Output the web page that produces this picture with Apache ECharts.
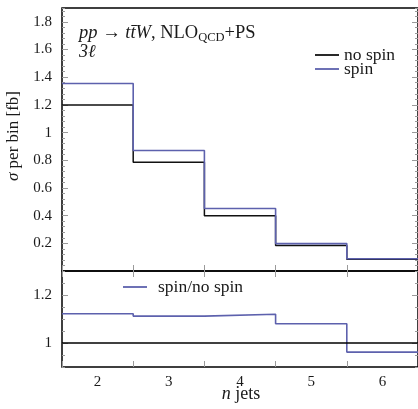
<!DOCTYPE html>
<html>
<head>
<meta charset="utf-8">
<script src="https://cdn.jsdelivr.net/npm/echarts@6/dist/echarts.min.js"></script>
<style>
  html, body { margin: 0; padding: 0; background: #fff; }
  #chart { width: 418px; height: 409px; }
</style>
</head>
<body>
<div id="chart"></div>
<script>
// Jet-multiplicity bins (n jets)
const categories = [2, 3, 4, 5, 6];
// Cross section per bin [fb]
const noSpin = [1.20, 0.785, 0.40, 0.185, 0.084];
const spin   = [1.355, 0.87, 0.452, 0.198, 0.089];
// Ratio spin / no spin
const ratio  = [1.122, 1.112, 1.12, 1.08, 0.962];
const ratioRef = 1;
// Tick labels
const upperTicks = [0.2, 0.4, 0.6, 0.8, 1, 1.2, 1.4, 1.6, 1.8];
const ratioTicks = [1, 1.2];

const FONT = 'Liberation Serif';
const TEXT_SIZE = 17.5;
const SPIN_COLOR = '#5d61ad';
const TICK_COLOR = '#9a9a9a';
const INK = '#1a1a1a';

// Histogram outline: each bin becomes a flat segment from its lower to its upper edge
function histo(values) {
  const pts = [];
  categories.forEach((c, i) => {
    pts.push([c - 0.5, values[i]]);
    pts.push([c + 0.5, values[i]]);
  });
  return pts;
}

function catAxis(grid, position, showLabels) {
  return {
    type: 'category', gridIndex: grid, position: position, data: categories,
    boundaryGap: true,
    axisLine: { show: false },
    axisTick: { show: true, inside: true, length: 6, interval: 0,
                lineStyle: { color: TICK_COLOR, width: 1 } },
    axisLabel: { show: showLabels, margin: 8, fontFamily: FONT, fontSize: 15, color: INK },
    splitLine: { show: false }
  };
}
function valueX(grid) {
  return { type: 'value', gridIndex: grid, min: 1.5, max: 6.5, show: false };
}
function majorY(grid, position, min, max, ticks, showLabels) {
  return {
    type: 'value', gridIndex: grid, position: position, min: min, max: max,
    axisLine: { show: false },
    axisTick: { show: true, inside: true, length: 6, customValues: ticks,
                lineStyle: { color: TICK_COLOR, width: 1 } },
    axisLabel: { show: showLabels, customValues: ticks, margin: 10,
                 fontFamily: FONT, fontSize: 15, color: INK },
    splitLine: { show: false }
  };
}
function minorY(grid, position, min, max, step) {
  return {
    type: 'value', gridIndex: grid, position: position, min: min, max: max, interval: step,
    axisLine: { show: false },
    axisTick: { show: true, inside: true, length: 3,
                lineStyle: { color: TICK_COLOR, width: 1 } },
    axisLabel: { show: false },
    splitLine: { show: false }
  };
}
// One legend row: a short line sample followed by its label, centred on lineY
function legendItem(name, left, lineY, textPad) {
  return {
    data: [name], left: left, top: lineY - 9, padding: 0, icon: 'rect',
    itemWidth: 24, itemHeight: 1.8,
    textStyle: { fontFamily: FONT, fontSize: TEXT_SIZE, lineHeight: 18, color: INK,
                 padding: [0, 0, 0, textPad] }
  };
}

const chart = echarts.init(document.getElementById('chart'), null, { renderer: 'canvas' });

chart.setOption({
  animation: false,
  backgroundColor: '#fff',
  textStyle: { fontFamily: FONT },
  grid: [
    { left: 62, top: 8, width: 357.5, height: 263, show: true,
      borderColor: '#000', borderWidth: 1.5, backgroundColor: 'transparent' },
    { left: 62, top: 271, width: 357.5, height: 96, show: true,
      borderColor: '#000', borderWidth: 1.5, backgroundColor: 'transparent' }
  ],
  xAxis: [
    catAxis(0, 'bottom', false),
    catAxis(0, 'top', false),
    valueX(0),
    catAxis(1, 'bottom', true),
    catAxis(1, 'top', false),
    valueX(1)
  ],
  yAxis: [
    majorY(0, 'left', 0, 1.9, upperTicks, true),
    minorY(0, 'left', 0, 1.9, 0.04),
    majorY(0, 'right', 0, 1.9, upperTicks, false),
    minorY(0, 'right', 0, 1.9, 0.04),
    majorY(1, 'left', 0.9, 1.3, ratioTicks, true),
    minorY(1, 'left', 0.9, 1.3, 0.05),
    majorY(1, 'right', 0.9, 1.3, ratioTicks, false),
    minorY(1, 'right', 0.9, 1.3, 0.05)
  ],
  legend: [
    legendItem('no spin', 315, 55, 0),
    legendItem('spin', 315, 69, 0),
    legendItem('spin/no spin', 123, 287, 6)
  ],
  series: [
    { name: 'no spin', type: 'line', xAxisIndex: 2, yAxisIndex: 0,
      data: histo(noSpin), symbol: 'none', color: '#111',
      lineStyle: { color: '#111', width: 1.5 }, z: 2 },
    { name: 'spin', type: 'line', xAxisIndex: 2, yAxisIndex: 0,
      data: histo(spin), symbol: 'none', color: SPIN_COLOR,
      lineStyle: { color: SPIN_COLOR, width: 1.6 }, z: 3 },
    { name: 'spin/no spin', type: 'line', xAxisIndex: 5, yAxisIndex: 4,
      data: histo(ratio), symbol: 'none', color: SPIN_COLOR,
      lineStyle: { color: SPIN_COLOR, width: 1.6 }, z: 2,
      markLine: { silent: true, symbol: 'none', label: { show: false },
                  lineStyle: { color: '#000', width: 1.5, type: 'solid' },
                  data: [{ yAxis: ratioRef }] } }
  ],
  graphic: [
    { type: 'text', x: 79, y: 33,
      style: { text: '{i|pp} → {i|tt\u0304W}, NLO{s|QCD}+PS', fontFamily: FONT, fontSize: 18.5,
               fill: INK, verticalAlign: 'middle',
               rich: { i: { fontStyle: 'italic', fontFamily: FONT, fontSize: 18.5, lineHeight: 22 },
                       s: { fontFamily: FONT, fontSize: 12.5, lineHeight: 12, verticalAlign: 'bottom' } } } },
    { type: 'text', x: 79, y: 52.5,
      style: { text: '3\u2113', fontFamily: FONT, fontSize: 18, fontStyle: 'italic', fill: INK,
               verticalAlign: 'middle' } },
    { type: 'text', x: 14, y: 136, rotation: Math.PI / 2,
      style: { text: '{i|σ} per bin [fb]', fontFamily: FONT, fontSize: 17, fill: INK,
               align: 'center', verticalAlign: 'middle',
               rich: { i: { fontStyle: 'italic', fontFamily: FONT, fontSize: 17 } } } },
    { type: 'text', x: 241, y: 394,
      style: { text: '{i|n} jets', fontFamily: FONT, fontSize: 18, fill: INK,
               align: 'center', verticalAlign: 'middle',
               rich: { i: { fontStyle: 'italic', fontFamily: FONT, fontSize: 18 } } } }
  ]
});
</script>
</body>
</html>
